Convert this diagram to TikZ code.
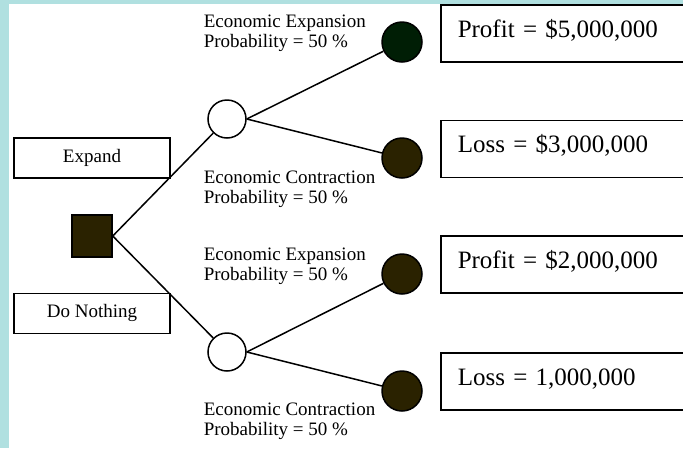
\documentclass[tikz,border=0pt]{standalone}
\usepackage{fontspec}
\setmainfont{Liberation Serif}
\definecolor{framecyan}{RGB}{176,224,224}
\definecolor{leafgreen}{RGB}{0,30,5}
\definecolor{leafolive}{RGB}{42,34,0}
\begin{document}
\begin{tikzpicture}[x=1pt,y=-1pt,line width=1.5pt,
  choice/.style={draw,minimum width=156pt,minimum height=40pt,text height=15pt,text depth=7pt,font=\fontsize{19}{20}\selectfont},
  decision/.style={draw,fill=leafolive,minimum width=40pt,minimum height=42pt,inner sep=0pt},
  chance/.style={draw,circle,fill=white,minimum size=38pt,inner sep=0pt},
  leaf/.style={draw,circle,fill=#1,minimum size=40pt,inner sep=0pt},
  outcome/.style={draw,anchor=west,minimum height=57pt,inner xsep=17pt,text width=226pt,text height=20pt,text depth=13pt,font=\fontsize{25}{28}\selectfont},
  prob/.style={anchor=north west,inner sep=0pt,align=left,font=\fontsize{19}{20}\selectfont}]
\clip (0,0) rectangle (683,448);
\fill[framecyan] (0,0) rectangle (683,448);
\fill[white] (9,4) rectangle (683,448);
\node[choice] (expand) at (92,158) {Expand};
\node[choice] (nothing) at (92,313.5) {Do Nothing};
\node[decision] (dec) at (92,236) {};
\node[chance] (chA) at (227,119) {};
\node[chance] (chB) at (227,352) {};
\node[leaf=leafgreen] (endA1) at (402,42) {};
\node[leaf=leafolive] (endA2) at (402,158) {};
\node[leaf=leafolive] (endB1) at (402,274) {};
\node[leaf=leafolive] (endB2) at (402,391) {};
\node[outcome] (outA1) at (440,33.5) {Profit = \$5,000,000};
\node[outcome] (outA2) at (440,149) {Loss = \$3,000,000};
\node[outcome] (outB1) at (440,264.5) {Profit = \$2,000,000};
\node[outcome] (outB2) at (440,381.5) {Loss = 1,000,000};
\node[prob] (pA1) at (203,14) {Economic Expansion\\Probability = 50 \%};
\node[prob] (pA2) at (203,170) {Economic Contraction\\Probability = 50 \%};
\node[prob] (pB1) at (203,247) {Economic Expansion\\Probability = 50 \%};
\node[prob] (pB2) at (203,402) {Economic Contraction\\Probability = 50 \%};
\draw (dec.east) -- (chA);
\draw (dec.east) -- (chB);
\draw (chA.east) -- (endA1);
\draw (chA.east) -- (endA2);
\draw (chB.east) -- (endB1);
\draw (chB.east) -- (endB2);
\end{tikzpicture}
\end{document}
